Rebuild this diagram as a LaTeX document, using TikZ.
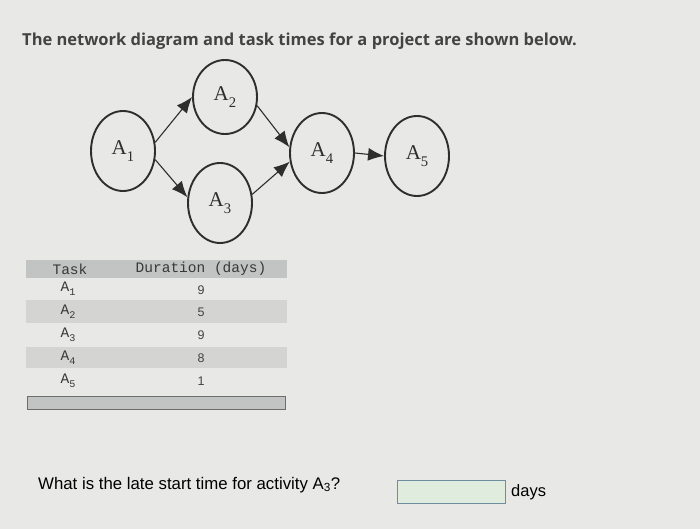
\documentclass[tikz,border=0pt]{standalone}
\usepackage{fontspec}
\usepackage{graphicx}
\setmainfont{Liberation Serif}
\newfontfamily\titlefont{Open Sans}
\newfontfamily\qfont{Liberation Sans}
\newfontfamily\monofont{Liberation Mono}
\usetikzlibrary{arrows.meta,shapes.geometric}
\definecolor{bg}{HTML}{E8E8E6}
\definecolor{band}{HTML}{C2C3C3}
\definecolor{rowband}{HTML}{D4D4D3}
\definecolor{ink}{HTML}{2E2E2E}
\definecolor{boxfill}{HTML}{E0ECDD}
\definecolor{boxline}{HTML}{6F8CA0}
\newcommand\lowsub[1]{\raisebox{-0.3em}{\scalebox{0.7}{#1}}}
\tikzset{
  act/.style={ellipse, draw=ink, line width=1.9pt, minimum width=64pt, minimum height=80pt, inner sep=0pt, font=\fontsize{21}{21}\selectfont, text=ink},
  link/.style={draw=ink, line width=1.1pt, -{Latex[length=16pt,width=13pt]}},
  tabtxt/.style={font=\monofont\fontsize{14.5}{14.5}\selectfont, text=ink!95, inner sep=0pt},
  numtxt/.style={font=\qfont\fontsize{12.5}{12.5}\selectfont, text=ink!90, inner sep=0pt},
}
\begin{document}
\begin{tikzpicture}[x=1pt,y=-1pt]
\fill[bg] (0,0) rectangle (700,529);
\useasboundingbox (0,0) rectangle (700,529);
\node[anchor=base west, inner sep=0pt, text=ink!90, font=\titlefont\bfseries\fontsize{16.5}{16.5}\selectfont] (title) at (22,46) {The network diagram and task times for a project are shown below.};
% network
\node[act] (a1) at (123,151) {A\lowsub{1}};
\node[act, minimum height=74pt] (a2) at (225,97) {A\lowsub{2}};
\node[act] (a3) at (220,203) {A\lowsub{3}};
\node[act] (a4) at (322,153) {A\lowsub{4}};
\node[act] (a5) at (417,156) {A\lowsub{5}};
\draw[link] (a1.15) -- (a2.west);
\draw[link] (a1.-15) -- (a3.170);
\draw[link] (a2.-15) -- (a4.170);
\draw[link] (a3.15) -- (a4.195);
\draw[link] (a4.east) -- (a5.west);
% table
\fill[band] (26,260) rectangle (287,278);
\fill[rowband] (26,300) rectangle (287,323);
\fill[rowband] (26,347) rectangle (287,368);
\node[tabtxt] (th1) at (70,269) {Task};
\node[tabtxt] (th2) at (201,269) {Duration (days)};
\node[tabtxt] (t1) at (68,289) {A\lowsub{1}};
\node[tabtxt] (t2) at (68,312) {A\lowsub{2}};
\node[tabtxt] (t3) at (68,335) {A\lowsub{3}};
\node[tabtxt] (t4) at (68,358) {A\lowsub{4}};
\node[tabtxt] (t5) at (68,381) {A\lowsub{5}};
\node[numtxt] (d1) at (201,290) {9};
\node[numtxt] (d2) at (201,312) {5};
\node[numtxt] (d3) at (201,335) {9};
\node[numtxt] (d4) at (201,358) {8};
\node[numtxt] (d5) at (201,381) {1};
\draw[fill=band, draw=ink!70, line width=0.8pt] (27,396) rectangle (285,409);
% question
\node[anchor=base west, inner sep=0pt, text=black, font=\qfont\fontsize{16.8}{16.8}\selectfont] (q) at (38,489) {What is the late start time for activity A\textsubscript{3}?};
\node[draw=boxline, fill=boxfill, line width=0.8pt, minimum width=108pt, minimum height=23pt, inner sep=0pt] (ans) at (451,491.5) {};
\node[anchor=west, inner sep=0pt, text=black, font=\qfont\fontsize{16.5}{16.5}\selectfont] (days) at (511,492) {days};
\end{tikzpicture}
\end{document}
